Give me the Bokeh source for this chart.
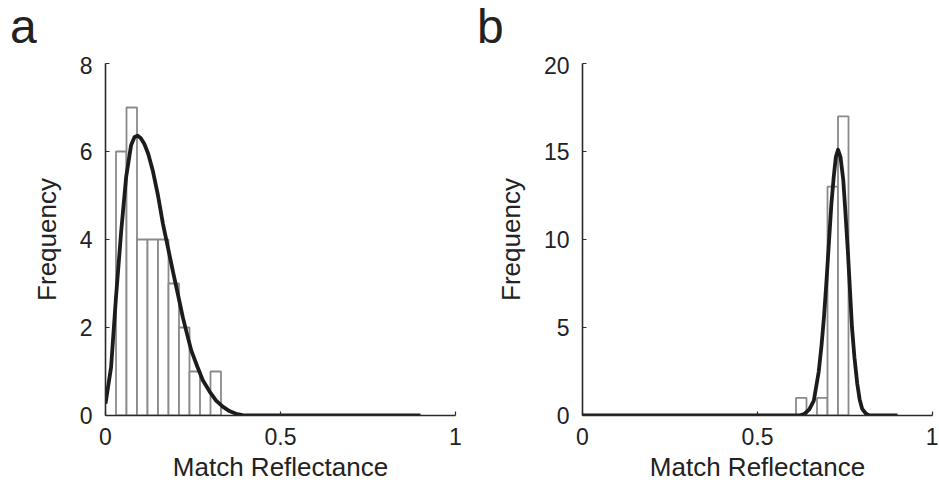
from bokeh.plotting import figure
from bokeh.layouts import row, column
from bokeh.models import Range1d, FixedTicker, Div
from bokeh.embed import file_html
from bokeh.resources import INLINE

# ---------------- data ----------------
x_ticks = [0, 0.5, 1]
x_tick_labels = ["0", "0.5", "1"]
x_label = "Match Reflectance"
y_label = "Frequency"

# panel a
a_bin_left = [0.03, 0.06, 0.09, 0.12, 0.15, 0.18, 0.21, 0.24, 0.27, 0.30]
a_bin_right = [0.06, 0.09, 0.12, 0.15, 0.18, 0.21, 0.24, 0.27, 0.30, 0.33]
a_counts = [6, 7, 4, 4, 4, 3, 2, 1, 0, 1]
a_fit_x = [0.0, 0.016, 0.030, 0.045, 0.059, 0.073, 0.083, 0.092, 0.101, 0.111,
           0.122, 0.135, 0.150, 0.164, 0.178, 0.192, 0.207, 0.221, 0.233, 0.245,
           0.262, 0.278, 0.297, 0.316, 0.335, 0.354, 0.373, 0.392, 0.42, 0.90]
a_fit_y = [0.27, 1.1, 2.69, 4.2, 5.42, 6.14, 6.33, 6.36, 6.30, 6.17,
           5.95, 5.57, 5.0, 4.36, 3.83, 3.30, 2.75, 2.23, 1.85, 1.48,
           1.12, 0.80, 0.55, 0.34, 0.20, 0.10, 0.04, 0.01, 0.0, 0.0]
a_y_ticks = [0, 2, 4, 6, 8]

# panel b
b_bin_left = [0.61, 0.64, 0.67, 0.70, 0.73]
b_bin_right = [0.64, 0.67, 0.70, 0.73, 0.76]
b_counts = [1, 0, 1, 13, 17]
b_fit_x = [0.0, 0.62, 0.635, 0.648, 0.661, 0.675, 0.683, 0.690, 0.697, 0.704,
           0.711, 0.718, 0.724, 0.730, 0.737, 0.745, 0.751, 0.758, 0.764, 0.770,
           0.777, 0.785, 0.792, 0.799, 0.81, 0.82, 0.90]
b_fit_y = [0.0, 0.0, 0.1, 0.35, 0.85, 2.5, 4.0, 5.6, 7.6, 9.8,
           12.0, 13.6, 14.7, 15.1, 14.7, 13.4, 11.6, 9.4, 7.2, 5.0,
           3.3, 1.8, 0.9, 0.38, 0.1, 0.0, 0.0]
b_y_ticks = [0, 5, 10, 15, 20]

FONT = "Liberation Sans"
TXT = "#222222"
AX = "#2a2a2a"
BAR = "#8a8a8a"
CURVE = "#1c1c1c"
HEADER_H = 56


def panel(width, border_left, border_right, ymax, yticks, bl, br, counts, fx, fy,
          letter, letter_pad):
    p = figure(width=width, height=486 - HEADER_H, x_range=Range1d(0, 1),
               y_range=Range1d(0, ymax),
               output_backend="svg", toolbar_location=None,
               min_border_left=border_left, min_border_right=border_right,
               min_border_top=63 - HEADER_H, min_border_bottom=71)
    p.xgrid.visible = False
    p.ygrid.visible = False
    p.outline_line_color = None
    p.background_fill_color = "white"
    p.border_fill_color = "white"

    p.quad(left=bl, right=br, top=counts, bottom=[0] * len(counts),
           fill_color="white", line_color=BAR, line_width=1.8)
    p.line(fx, fy, line_color=CURVE, line_width=3.8, line_join="round")

    p.xaxis.ticker = FixedTicker(ticks=x_ticks)
    p.xaxis.major_label_overrides = {t: l for t, l in zip(x_ticks, x_tick_labels)}
    p.yaxis.ticker = FixedTicker(ticks=yticks)
    p.xaxis.axis_label = x_label
    p.yaxis.axis_label = y_label
    for ax in (p.xaxis[0], p.yaxis[0]):
        ax.axis_line_color = AX
        ax.axis_line_width = 1.6
        ax.major_tick_line_color = AX
        ax.major_tick_line_width = 1.2
        ax.major_tick_in = 4
        ax.major_tick_out = 0
        ax.minor_tick_line_color = None
        ax.major_label_text_font = FONT
        ax.major_label_text_font_size = "23px"
        ax.major_label_text_color = TXT
        ax.axis_label_text_font = FONT
        ax.axis_label_text_font_size = "26px"
        ax.axis_label_text_font_style = "normal"
        ax.axis_label_text_color = TXT
    p.xaxis.major_label_standoff = 12
    p.xaxis.axis_label_standoff = 4
    p.yaxis.major_label_standoff = 13
    p.yaxis.axis_label_standoff = 15

    head = Div(text=letter, width=width, height=HEADER_H, margin=0,
               styles={"font-family": FONT, "font-size": "48px", "line-height": "54px",
                       "color": TXT, "padding-left": f"{letter_pad}px",
                       "box-sizing": "border-box"})
    return column(head, p, spacing=0)


pa = panel(470, 105, 15, 8, a_y_ticks, a_bin_left, a_bin_right, a_counts, a_fit_x, a_fit_y,
           "a", 10)
pb = panel(468, 112, 6, 20, b_y_ticks, b_bin_left, b_bin_right, b_counts, b_fit_x, b_fit_y,
           "b", 7)

layout = row(pa, pb, spacing=0)
open("out.html", "w").write(file_html(layout, INLINE))
